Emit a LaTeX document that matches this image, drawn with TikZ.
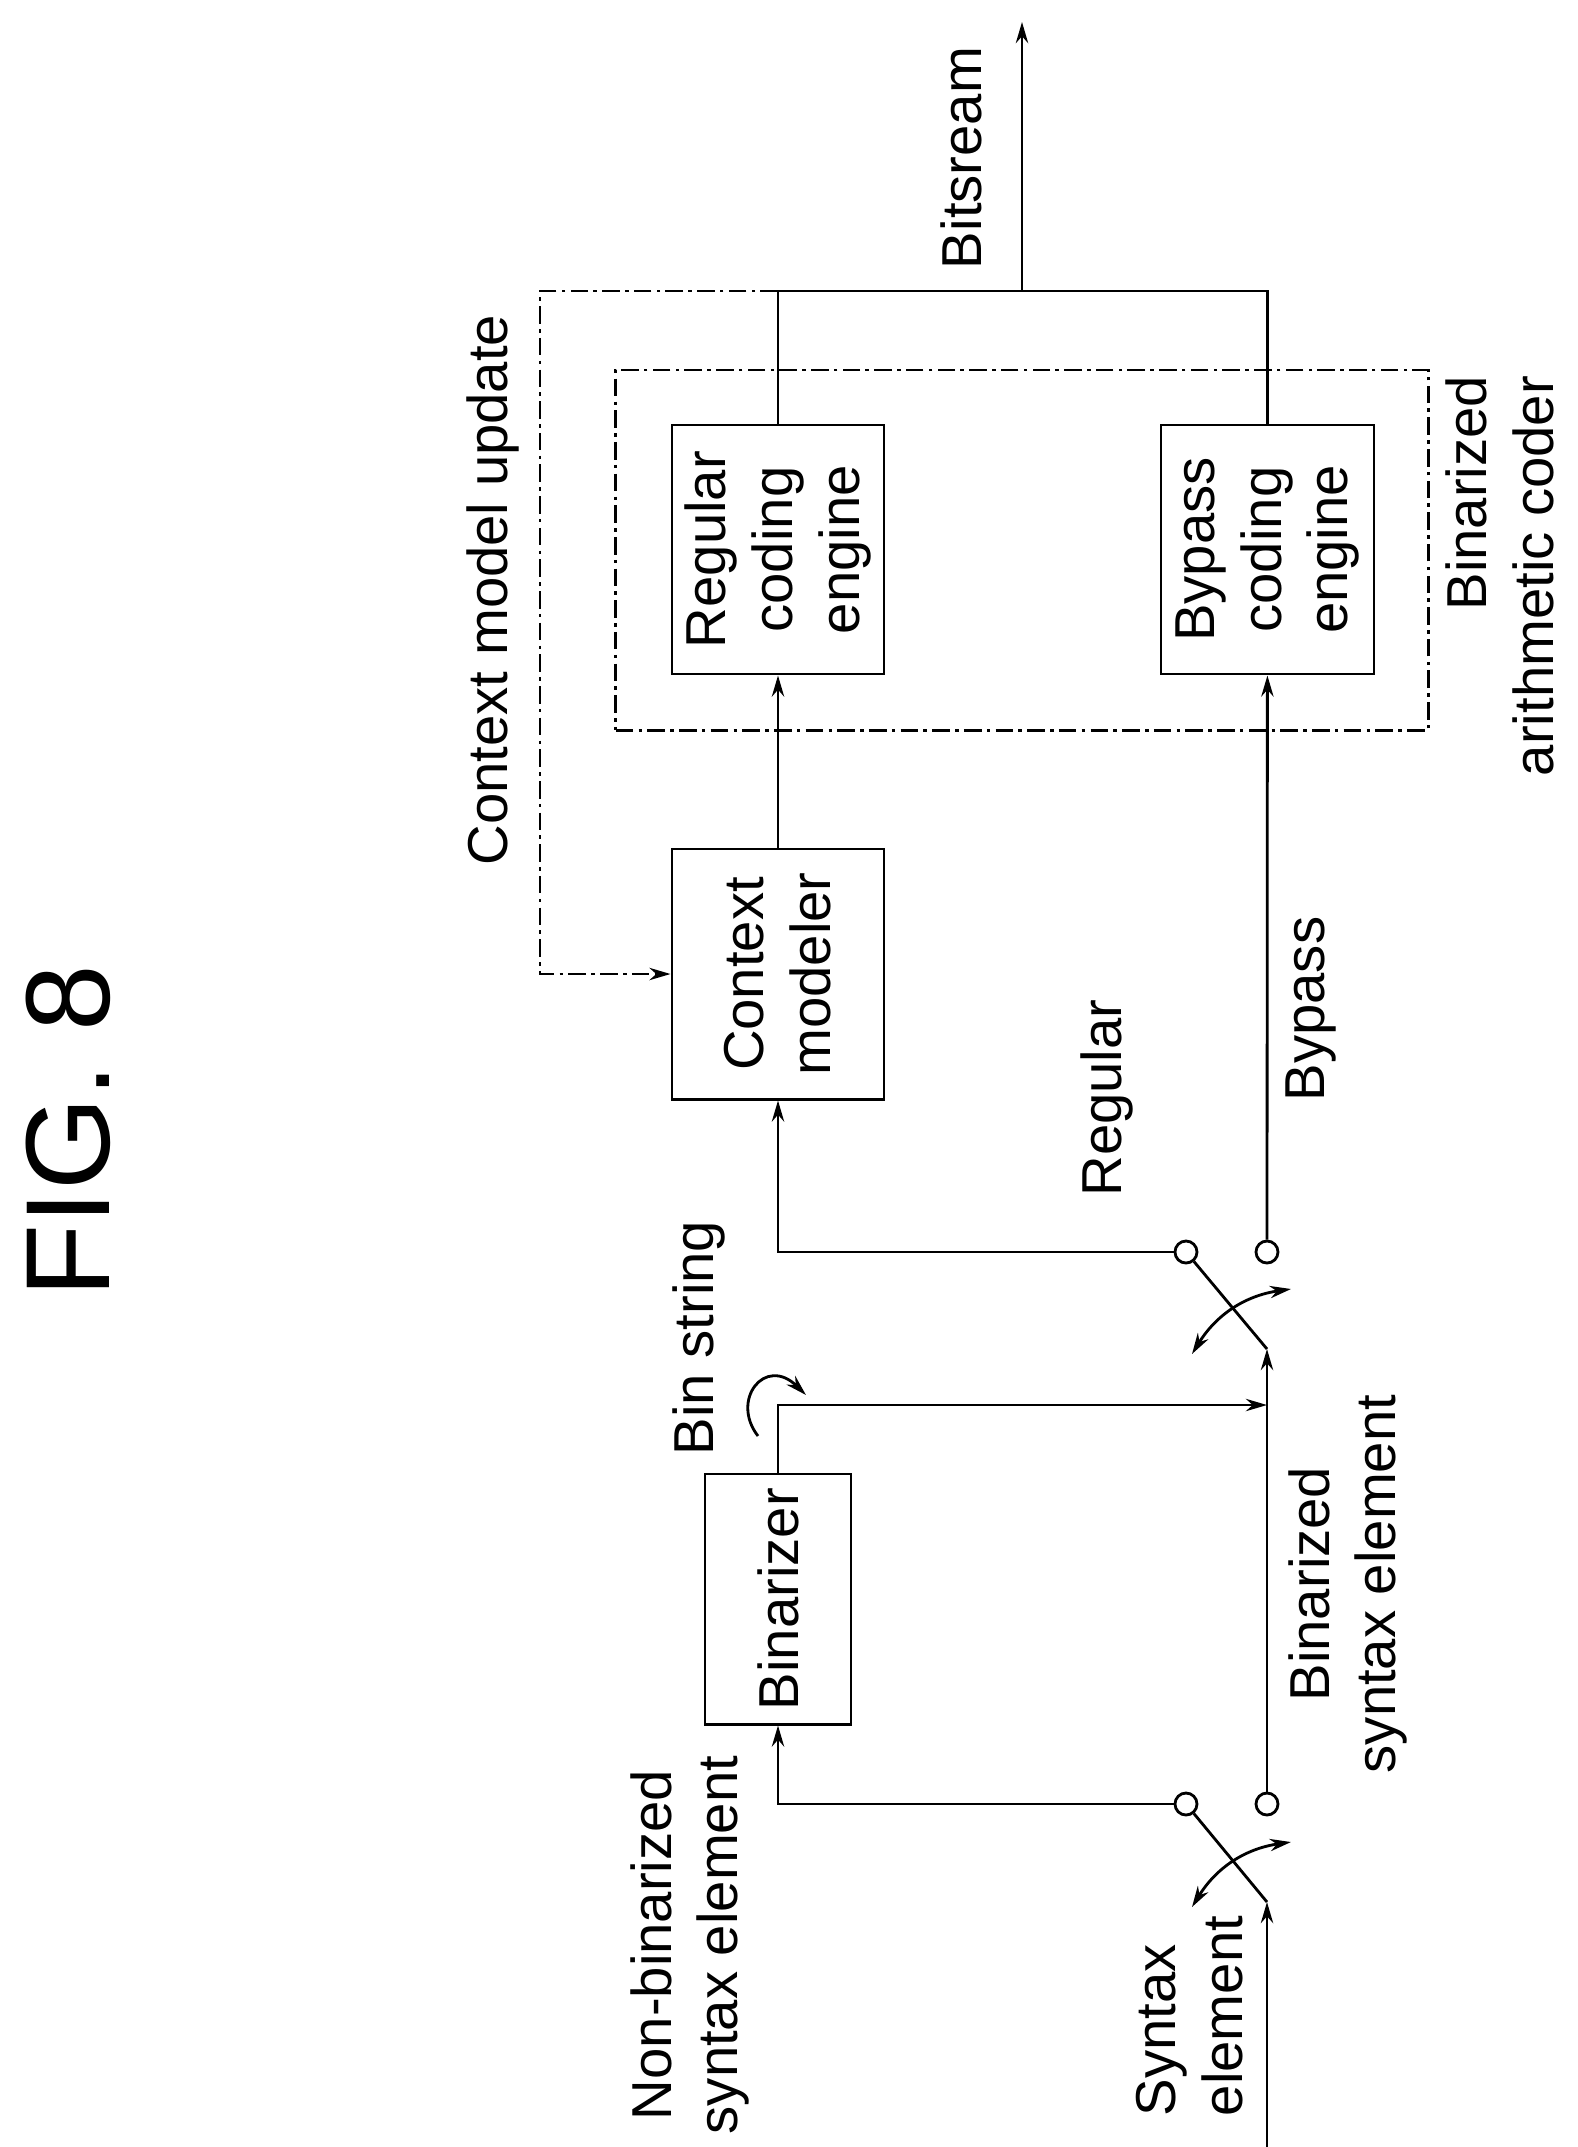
\documentclass[tikz,border=0pt]{standalone}
\usepackage{fontspec}
\setmainfont{Liberation Sans}
\usetikzlibrary{arrows.meta}

\begin{document}
\begin{tikzpicture}[x=0.01cm, y=-0.01cm, line width=0.8pt,
    arr/.style={-{Stealth[length=6pt,width=3.5pt]}},
    dbl/.style={{Stealth[length=6pt,width=3.5pt]}-{Stealth[length=6pt,width=3.5pt]}},
    block/.style={draw, rectangle, rotate=90, inner sep=0pt, align=center, font=\fontsize{16}{19}\selectfont},
    lbl/.style={rotate=90, inner sep=0pt, font=\fontsize{16}{19}\selectfont},
    term/.style={draw, circle, minimum size=0.22cm, inner sep=0pt},
    fb/.style={dash pattern=on 5pt off 1.5pt on 1pt off 1.5pt}]
    \useasboundingbox (0,0) rectangle (1578,2147);
    \node (title) at (68,1131) [rotate=90, font=\fontsize{34}{40}\selectfont] {FIG. 8};
    % blocks
    \node (bin) at (778,1599) [block, minimum width=2.5cm, minimum height=1.46cm] {Binarizer};
    \node (ctx) at (778,974) [block, minimum width=2.5cm, minimum height=2.12cm] {Context\\modeler};
    \node (reg) at (778,549.5) [block, minimum width=2.49cm, minimum height=2.12cm] {Regular\\coding\\engine};
    \node (byp) at (1267.5,549.5) [block, minimum width=2.49cm, minimum height=2.13cm] {Bypass\\coding\\engine};
    \node (coder) at (1022,550) [draw, fb, rectangle, minimum width=8.12cm, minimum height=3.6cm] {};
    % switches
    \coordinate (in) at (1267,2147);
    \coordinate (p1) at (1267,1902);
    \coordinate (p2) at (1267,1349);
    \node (t1a) at (1186,1804) [term] {};
    \node (t1b) at (1267,1804) [term] {};
    \node (t2a) at (1186,1252) [term] {};
    \node (t2b) at (1267,1252) [term] {};
    \coordinate (j1) at (1267,1405);
    \coordinate (jt) at (1022,291);
    \coordinate (out) at (1022,22);
    \coordinate (fbc) at (540,291);
    % labels
    \node (bits) at (961,158) [lbl] {Bitsream};
    \node (upd) at (493,590) [lbl] {Context model update};
    \node (arith) at (1500,576) [lbl, align=right] {Binarized\\arithmetic coder};
    \node (regl) at (1107,1098) [lbl] {Regular};
    \node (bypl) at (1311,1009) [lbl] {Bypass};
    \node (binstr) at (699,1338) [lbl] {Bin string};
    \node (nonbin) at (690,1945) [lbl, align=center] {Non-binarized\\syntax element};
    \node (synel) at (1190,2016) [lbl, align=left] {Syntax\\element};
    \node (binel) at (1348,1584) [lbl, align=center] {Binarized\\syntax element};
    % connectors
    \draw[arr] (in) -- (p1);
    \draw (p1) -- (t1a);
    \draw[dbl] ([shift={(-75,5)}]p1) to[bend left=25] ([shift={(24,-60)}]p1);
    \draw[arr] (t1a) -| (bin);
    \draw[arr] (t1b) -- (p2);
    \draw[arr] (bin) |- (j1);
    \draw (p2) -- (t2a);
    \draw[dbl] ([shift={(-75,5)}]p2) to[bend left=25] ([shift={(24,-60)}]p2);
    \draw[arr] (t2a) -| (ctx);
    \draw[arr] (t2b) -- (byp);
    \draw[arr] (ctx) -- (reg);
    \draw (reg) |- (jt) -| (byp);
    \draw[arr] (jt) -- (out);
    \draw[fb, arr] (reg |- jt) -- (fbc) |- (ctx);
    \draw[arr] (758,1436) .. controls (730,1400) and (765,1355) .. (806,1395);
\end{tikzpicture}
\end{document}
